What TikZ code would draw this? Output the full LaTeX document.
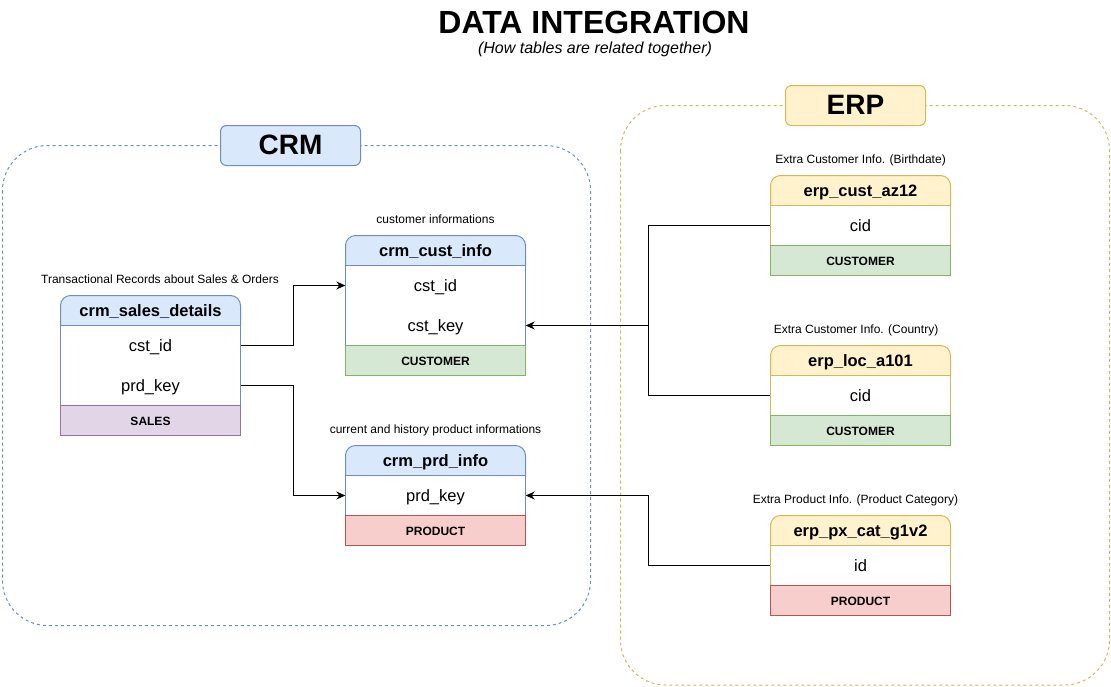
\documentclass[tikz,border=0pt]{standalone}
\usepackage{fontspec}
\setmainfont{Liberation Sans}
\usetikzlibrary{arrows.meta}
\definecolor{crmfill}{HTML}{DAE8FC}
\definecolor{crmline}{HTML}{6C8EBF}
\definecolor{erpfill}{HTML}{FFF2CC}
\definecolor{erpline}{HTML}{D6B656}
\definecolor{grnfill}{HTML}{D5E8D4}
\definecolor{grnline}{HTML}{82B366}
\definecolor{redfill}{HTML}{F8CECC}
\definecolor{redline}{HTML}{B85450}
\definecolor{purfill}{HTML}{E1D5E7}
\definecolor{purline}{HTML}{9673A6}
\begin{document}
\begin{tikzpicture}[x=1pt,y=-1pt,
  group/.style={line width=1pt, dash pattern=on 3pt off 3pt, rounded corners=45pt},
  grouplabel/.style={line width=1pt, rounded corners=6pt, minimum width=140pt, minimum height=40pt, inner sep=0pt, text height=18pt, text depth=0pt, font=\fontsize{28}{32}\selectfont\bfseries},
  crmhdr/.style={line width=1pt, draw=crmline, fill=crmfill, rounded corners=10pt},
  erphdr/.style={line width=1pt, draw=erpline, fill=erpfill, rounded corners=10pt},
  crmbody/.style={line width=1pt, draw=crmline, fill=white},
  erpbody/.style={line width=1pt, draw=erpline, fill=white},
  grnfoot/.style={line width=1pt, draw=grnline, fill=grnfill},
  redfoot/.style={line width=1pt, draw=redline, fill=redfill},
  purfoot/.style={line width=1pt, draw=purline, fill=purfill},
  hdrtxt/.style={inner sep=0pt, text height=11pt, text depth=0pt, font=\fontsize{16.5}{19}\selectfont\bfseries},
  fieldtxt/.style={minimum width=180pt, minimum height=40pt, inner sep=0pt, text height=12pt, text depth=0pt, font=\fontsize{16.5}{19}\selectfont},
  foottxt/.style={inner sep=0pt, text height=9pt, text depth=0pt, font=\fontsize{12}{14}\selectfont\bfseries},
  captxt/.style={inner sep=0pt, anchor=base, font=\fontsize{12}{14}\selectfont},
  conn/.style={line width=1pt, black},
  arr/.style={conn, -{Stealth[length=9pt, width=8pt, inset=3pt]}}
]
\useasboundingbox (0,0) rectangle (1111,686);

% title
\node[inner sep=0pt, anchor=base, font=\fontsize{32}{36}\selectfont\bfseries] (title) at (594,33.5) {DATA INTEGRATION};
\node[inner sep=0pt, anchor=base, font=\fontsize{16}{19}\selectfont\itshape] (subtitle) at (595,53) {(How tables are related together)};

% groups
\draw[group, draw=crmline] (2.5,145.5) rectangle (590.5,625.5);
\draw[group, draw=erpline] (620.5,105.5) rectangle (1109.5,685);
\node[grouplabel, draw=crmline, fill=crmfill] (crm) at (290.5,145.5) {CRM};
\node[grouplabel, draw=erpline, fill=erpfill] (erp) at (855.5,105.5) {ERP};

% ---------- crm_sales_details ----------
\node[captxt] (salescap) at (160,283.5) {Transactional Records about Sales \& Orders};
\filldraw[crmhdr] (60.5,325.5) -- (60.5,295.5) -- (240.5,295.5) -- (240.5,325.5);
\node[hdrtxt] (sales) at (150.5,310.5) {crm\_sales\_details};
\draw[crmbody] (60.5,325.5) rectangle (240.5,405.5);
\node[fieldtxt] (salescst) at (150.5,345.5) {cst\_id};
\node[fieldtxt] (salesprd) at (150.5,385.5) {prd\_key};
\draw[purfoot] (60.5,405.5) rectangle (240.5,435.5);
\node[foottxt] (salesfoot) at (150.5,420.5) {SALES};

% ---------- crm_cust_info ----------
\node[captxt] (custcap) at (435.5,223.5) {customer informations};
\filldraw[crmhdr] (345.5,265.5) -- (345.5,235.5) -- (525.5,235.5) -- (525.5,265.5);
\node[hdrtxt] (cust) at (435.5,250.5) {crm\_cust\_info};
\draw[crmbody] (345.5,265.5) rectangle (525.5,345.5);
\node[fieldtxt] (custid) at (435.5,285.5) {cst\_id};
\node[fieldtxt] (custkey) at (435.5,325.5) {cst\_key};
\draw[grnfoot] (345.5,345.5) rectangle (525.5,375.5);
\node[foottxt] (custfoot) at (435.5,360.5) {CUSTOMER};

% ---------- crm_prd_info ----------
\node[captxt] (prdcap) at (435.5,433.5) {current and history product informations};
\filldraw[crmhdr] (345.5,475.5) -- (345.5,445.5) -- (525.5,445.5) -- (525.5,475.5);
\node[hdrtxt] (prd) at (435.5,460.5) {crm\_prd\_info};
\draw[crmbody] (345.5,475.5) rectangle (525.5,515.5);
\node[fieldtxt] (prdkey) at (435.5,495.5) {prd\_key};
\draw[redfoot] (345.5,515.5) rectangle (525.5,545.5);
\node[foottxt] (prdfoot) at (435.5,530.5) {PRODUCT};

% ---------- erp_cust_az12 ----------
\node[captxt] (azcap) at (860.5,163.5) {Extra Customer Info. (Birthdate)};
\filldraw[erphdr] (770.5,205.5) -- (770.5,175.5) -- (950.5,175.5) -- (950.5,205.5);
\node[hdrtxt] (az) at (860.5,190.5) {erp\_cust\_az12};
\draw[erpbody] (770.5,205.5) rectangle (950.5,245.5);
\node[fieldtxt] (azcid) at (860.5,225.5) {cid};
\draw[grnfoot] (770.5,245.5) rectangle (950.5,275.5);
\node[foottxt] (azfoot) at (860.5,260.5) {CUSTOMER};

% ---------- erp_loc_a101 ----------
\node[captxt] (loccap) at (856,333.5) {Extra Customer Info. (Country)};
\filldraw[erphdr] (770.5,375.5) -- (770.5,345.5) -- (950.5,345.5) -- (950.5,375.5);
\node[hdrtxt] (loc) at (860.5,360.5) {erp\_loc\_a101};
\draw[erpbody] (770.5,375.5) rectangle (950.5,415.5);
\node[fieldtxt] (loccid) at (860.5,395.5) {cid};
\draw[grnfoot] (770.5,415.5) rectangle (950.5,445.5);
\node[foottxt] (locfoot) at (860.5,430.5) {CUSTOMER};

% ---------- erp_px_cat_g1v2 ----------
\node[captxt] (pxcap) at (855.5,503.5) {Extra Product Info. (Product Category)};
\filldraw[erphdr] (770.5,545.5) -- (770.5,515.5) -- (950.5,515.5) -- (950.5,545.5);
\node[hdrtxt] (px) at (860.5,530.5) {erp\_px\_cat\_g1v2};
\draw[erpbody] (770.5,545.5) rectangle (950.5,585.5);
\node[fieldtxt] (pxid) at (860.5,565.5) {id};
\draw[redfoot] (770.5,585.5) rectangle (950.5,615.5);
\node[foottxt] (pxfoot) at (860.5,600.5) {PRODUCT};

% ---------- connectors ----------
\draw[arr] (salescst.east) -- ++(52.5,0) |- (custid.west);
\draw[arr] (salesprd.east) -- ++(52.5,0) |- (prdkey.west);
\coordinate (erpjoin) at (648.5,325.5);
\draw[arr] (azcid.west) -| (erpjoin) -- (custkey.east);
\draw[conn] (loccid.west) -| (erpjoin);
\draw[arr] (pxid.west) -- ++(-122,0) |- (prdkey.east);
\end{tikzpicture}
\end{document}
